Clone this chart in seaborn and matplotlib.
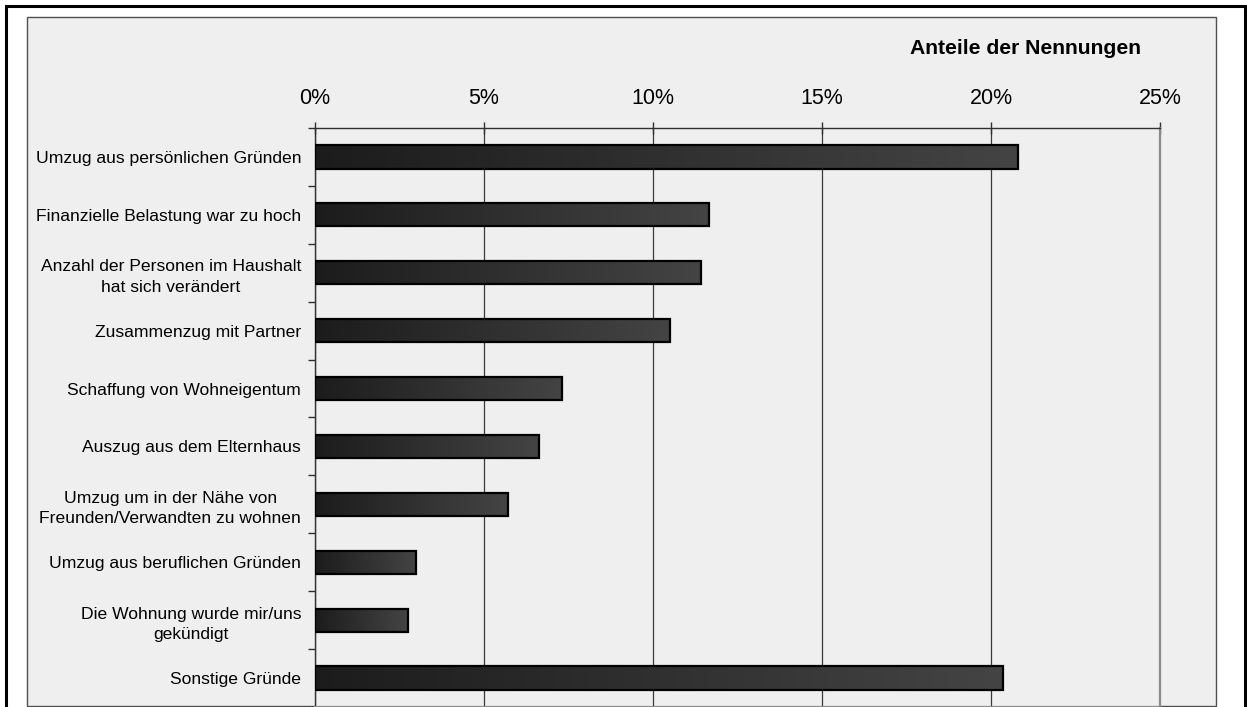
import numpy as np
import pandas as pd
import matplotlib
matplotlib.use("Agg")
import matplotlib.pyplot as plt
import seaborn as sns
from matplotlib.colors import LinearSegmentedColormap
from matplotlib.patches import Rectangle

categories = [
    "Umzug aus persönlichen Gründen",
    "Finanzielle Belastung war zu hoch",
    "Anzahl der Personen im Haushalt\nhat sich verändert",
    "Zusammenzug mit Partner",
    "Schaffung von Wohneigentum",
    "Auszug aus dem Elternhaus",
    "Umzug um in der Nähe von\nFreunden/Verwandten zu wohnen",
    "Umzug aus beruflichen Gründen",
    "Die Wohnung wurde mir/uns\ngekündigt",
    "Sonstige Gründe",
]
values = [0.208, 0.1166, 0.1143, 0.1051, 0.0731, 0.0664, 0.0571, 0.0298, 0.0275, 0.2035]
x_ticks = [0, 0.05, 0.10, 0.15, 0.20, 0.25]
x_tick_labels = ["0%", "5%", "10%", "15%", "20%", "25%"]
title = "Anteile der Nennungen"

sns.set_theme(style="white")
plt.rcParams["font.family"] = ["Liberation Sans", "DejaVu Sans"]

W, H = 1247, 707
fig = plt.figure(figsize=(W / 100, H / 100), dpi=100)
fig.patch.set_facecolor("white")

bg = "#efefef"
# outer frame and inner panel
fig.patches.append(Rectangle((6 / W, -0.02), (1245 - 6) / W, 1 - 6 / H + 0.02,
                             transform=fig.transFigure, facecolor="white",
                             edgecolor="black", lw=2.2, zorder=-3))
fig.patches.append(Rectangle((27 / W, 1 / H), (1216 - 27) / W, (706 - 17) / H,
                             transform=fig.transFigure, facecolor=bg,
                             edgecolor="#505050", lw=1.0, zorder=-2))

ax = fig.add_axes([315 / W, 0.0, (1160 - 315) / W, (707 - 128) / H])
ax.set_facecolor(bg)

df = pd.DataFrame({"Grund": categories, "Anteil": values})
sns.barplot(data=df, x="Anteil", y="Grund", orient="h", width=0.4,
            color="#303030", edgecolor="black", linewidth=1.6, ax=ax, zorder=3)

cmap = LinearSegmentedColormap.from_list("g", ["#1c1c1c", "#444444"])
grad = np.linspace(0, 1, 256).reshape(1, -1)
for p in ax.patches:
    x0, y0 = p.get_x(), p.get_y()
    w, h = p.get_width(), p.get_height()
    im = ax.imshow(grad, cmap=cmap, aspect="auto", extent=[x0, x0 + w, y0 + h, y0],
                   zorder=3.5, interpolation="bilinear")
    im.set_clip_path(p)
    p.set_facecolor("none")
    p.set_zorder(4)

ax.set_xlim(0, 0.25)
ax.set_ylim(9.5, -0.5)

ax.xaxis.tick_top()
ax.set_xticks(x_ticks)
ax.set_xticklabels(x_tick_labels, fontsize=15.5, color="black")
ax.tick_params(axis="x", which="major", direction="inout", length=8, width=1,
               color="#303030", pad=9.5, top=True, bottom=False)

ax.set_yticks(range(len(categories)))
ax.set_yticklabels(categories, fontsize=12.6, multialignment="center", color="black")
for t in ax.get_yticklabels():
    t.set_linespacing(1.45)
ax.tick_params(axis="y", which="major", length=0, pad=10, left=True)
ax.set_yticks(np.arange(-0.5, len(categories), 1.0), minor=True)
ax.tick_params(axis="y", which="minor", length=5, width=1, color="#303030",
               direction="out", left=True)

ax.set_xlabel("")
ax.set_ylabel("")

ax.grid(axis="x", color="#3a3a3a", lw=0.9, zorder=1)
ax.grid(axis="y", visible=False)
ax.set_axisbelow(True)

for s in ["left", "top"]:
    ax.spines[s].set_visible(True)
    ax.spines[s].set_color("#303030")
    ax.spines[s].set_linewidth(1.0)
for s in ["right", "bottom"]:
    ax.spines[s].set_visible(True)
    ax.spines[s].set_color("#8a8a8a")
    ax.spines[s].set_linewidth(1.6)

fig.text(1025 / W, 1 - 54 / H, title, ha="center", va="baseline",
         fontsize=15.2, fontweight="bold", color="black")

fig.savefig("out.png", dpi=100, facecolor="white")
